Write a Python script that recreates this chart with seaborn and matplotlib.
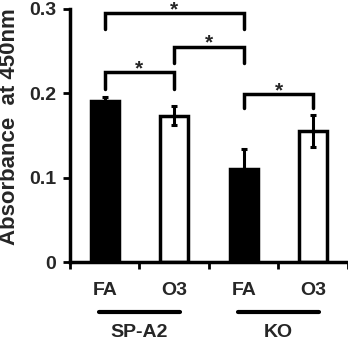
import matplotlib
matplotlib.use("Agg")
import matplotlib.pyplot as plt
import seaborn as sns
import pandas as pd
import numpy as np

# Data
conditions = ["FA", "O3", "FA", "O3"]
groups = ["SP-A2", "SP-A2", "KO", "KO"]
bar_ids = ["SP-A2 FA", "SP-A2 O3", "KO FA", "KO O3"]
means = [0.191, 0.1735, 0.110, 0.155]
errors = [0.004, 0.011, 0.024, 0.019]
fill_colors = ["black", "white", "black", "white"]
y_ticks = [0, 0.1, 0.2, 0.3]
y_tick_labels = ["0", "0.1", "0.2", "0.3"]
group_names = ["SP-A2", "KO"]
# significance brackets: (left bar index, right bar index, bracket height, leg bottom)
brackets = [(0, 2, 0.295, 0.276), (1, 2, 0.255, 0.236), (0, 1, 0.225, 0.205), (2, 3, 0.199, 0.183)]

sns.set_style("white")
plt.rcParams["font.family"] = ["Liberation Sans", "DejaVu Sans"]
plt.rcParams["font.weight"] = "bold"

df = pd.DataFrame({"bar": bar_ids, "value": means, "cond": conditions, "group": groups})

fig = plt.figure(figsize=(3.48, 3.40), dpi=100)
ax = fig.add_axes([0.201, 0.229, 0.799, 0.745])

sns.barplot(data=df, x="bar", y="value", hue="bar", palette=dict(zip(bar_ids, fill_colors)),
            order=bar_ids, width=0.4, edgecolor="black", linewidth=2.5, legend=False, ax=ax,
            errorbar=None)
x = np.arange(len(bar_ids))
ax.errorbar(x, means, yerr=errors, fmt="none", ecolor="black", elinewidth=2.2, capsize=2.5,
            capthick=2.2, zorder=5)

ax.set_xlim(-0.5, 3.5)
ax.set_ylim(0, 0.3)
ax.set_yticks(y_ticks)
ax.set_yticklabels(y_tick_labels, fontsize=14, fontweight="bold")
ax.set_ylabel("Absorbance  at 450nm", fontsize=16, fontweight="bold")
ax.yaxis.set_label_coords(-0.178, 0.535)
ax.set_xlabel("")

# Excel-like category ticks at boundaries, labels at centres
ax.set_xticks(np.arange(-0.5, 4.0, 1.0))
ax.set_xticklabels([])
ax.set_xticks(x, minor=True)
ax.set_xticklabels(conditions, minor=True, fontsize=14, fontweight="bold")
ax.tick_params(axis="x", which="minor", length=0, pad=14)
ax.tick_params(axis="x", which="major", direction="out", length=5, width=2, color="black", bottom=True)
ax.tick_params(axis="y", direction="out", length=5, width=2, color="black", left=True, pad=5)

for s in ["top", "right"]:
    ax.spines[s].set_visible(False)
for s in ["left", "bottom"]:
    ax.spines[s].set_linewidth(2.5)
    ax.spines[s].set_color("black")

# significance brackets
for i, j, h, b in brackets:
    xi, xj = x[i], x[j]
    ax.plot([xi, xi, xj, xj], [b, h, h, b], color="black", lw=2.5, clip_on=False,
            solid_joinstyle="miter")
    ax.text((xi + xj) / 2, h - 0.007, "*", ha="center", va="bottom", fontsize=15, fontweight="bold")

# group lines and labels
trans = ax.get_xaxis_transform()
for gi, g in enumerate(group_names):
    c = 2 * gi + 0.5
    ax.plot([c - 0.58, c + 0.58], [-0.198, -0.198], color="black", lw=3, transform=trans, clip_on=False)
    ax.text(c, -0.245, g, ha="center", va="top", fontsize=14, fontweight="bold", transform=trans)

fig.savefig("out.png", dpi=100)
